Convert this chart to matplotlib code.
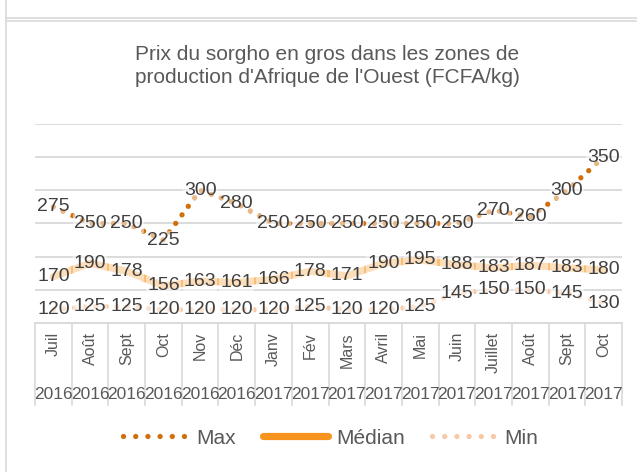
import numpy as np
import matplotlib
matplotlib.use('Agg')
import matplotlib.pyplot as plt
from matplotlib.lines import Line2D
from matplotlib import transforms

plt.rcParams['font.family'] = ['Liberation Sans', 'DejaVu Sans']

months = ['Juil', 'Août', 'Sept', 'Oct', 'Nov', 'Déc', 'Janv', 'Fév',
          'Mars', 'Avril', 'Mai', 'Juin', 'Juillet', 'Août', 'Sept', 'Oct']
years = ['2016'] * 6 + ['2017'] * 10

price_max = [275, 250, 250, 225, 300, 280, 250, 250, 250, 250, 250, 250, 270, 260, 300, 350]
price_med = [170, 190, 178, 156, 163, 161, 166, 178, 171, 190, 195, 188, 183, 187, 183, 180]
price_min = [120, 125, 125, 120, 120, 120, 120, 125, 120, 120, 125, 145, 150, 150, 145, 130]

C_MAX = '#D06F0C'
C_MED = '#F7941D'
C_MIN = '#F8C9A6'
GRID = '#D9D9D9'
TXT = '#404040'

W, H = 637, 472
fig = plt.figure(figsize=(W / 100, H / 100), dpi=100)

# frame lines (cell borders around the chart)
fig.add_artist(Line2D([6.5 / W, 6.5 / W], [0, 1], color=GRID, lw=1.2))
fig.add_artist(Line2D([6.5 / W, 1], [1 - 17.5 / H, 1 - 17.5 / H], color=GRID, lw=1.2))
fig.add_artist(Line2D([6.5 / W, 1], [1 - 21 / H, 1 - 21 / H], color=GRID, lw=1.2))

ax = fig.add_axes([35 / W, 1 - 323 / H, 587 / W, 199 / H])
x = np.arange(len(months))

dots = (0, (0.01, 2.0))
ax.plot(x, price_max, color=C_MAX, lw=3.8, ls=dots, dash_capstyle='round', zorder=3)
ax.plot(x, price_med, color=C_MED, lw=5.2, alpha=0.6, solid_capstyle='round', zorder=2)
ax.plot(x, price_min, color=C_MIN, lw=3.8, ls=dots, dash_capstyle='round', zorder=3)

# data labels centred on the points, with a translucent white background
for series in (price_max, price_med, price_min):
    for xi, v in zip(x, series):
        ax.text(xi, v, str(v), ha='center', va='center', fontsize=14, color=TXT, zorder=5,
                bbox=dict(boxstyle='square,pad=0.05', fc='white', ec='none', alpha=0.5))

ax.set_xlim(-0.5, len(months) - 0.5)
ax.set_ylim(100, 400)
ax.set_yticks(np.arange(100, 401, 50))
ax.yaxis.grid(True, color=GRID, lw=1.3)
ax.set_axisbelow(True)
ax.tick_params(left=False, labelleft=False, bottom=False, labelbottom=False)
for s in ('left', 'right', 'top'):
    ax.spines[s].set_visible(False)
ax.spines['bottom'].set_color(GRID)
ax.spines['bottom'].set_linewidth(1.3)

# two-level category axis
trans = transforms.blended_transform_factory(ax.transData, ax.transAxes)
for b in np.arange(-0.5, len(months), 1.0):
    ax.add_line(Line2D([b, b], [0, -82 / 199], transform=trans, color=GRID, lw=1.2, clip_on=False))
for xi, (m, yr) in enumerate(zip(months, years)):
    ax.text(xi, -9 / 199, m, transform=trans, rotation=90, ha='center', va='top',
            fontsize=11.5, color='#595959')
    ax.text(xi, -72 / 199, yr, transform=trans, ha='center', va='center',
            fontsize=12.5, color='#595959')

fig.text(327 / W, 1 - 66 / H,
         "Prix du sorgho en gros dans les zones de\nproduction d'Afrique de l'Ouest (FCFA/kg)",
         ha='center', va='center', fontsize=15, color='#595959', linespacing=1.25)

handles = [
    Line2D([], [], color=C_MAX, lw=3.8, ls=(0, (0.01, 2.3)), dash_capstyle='round'),
    Line2D([], [], color=C_MED, lw=5.2, solid_capstyle='round'),
    Line2D([], [], color=C_MIN, lw=3.8, ls=(0, (0.01, 2.3)), dash_capstyle='round'),
]
fig.legend(handles, ['Max', 'Médian', 'Min'], loc='center', ncol=3,
           bbox_to_anchor=(331 / W, 1 - 438 / H), frameon=False, fontsize=15,
           handlelength=3.1, handletextpad=0.4, columnspacing=1.3, labelcolor='#595959')

fig.savefig('out.png', dpi=100)
